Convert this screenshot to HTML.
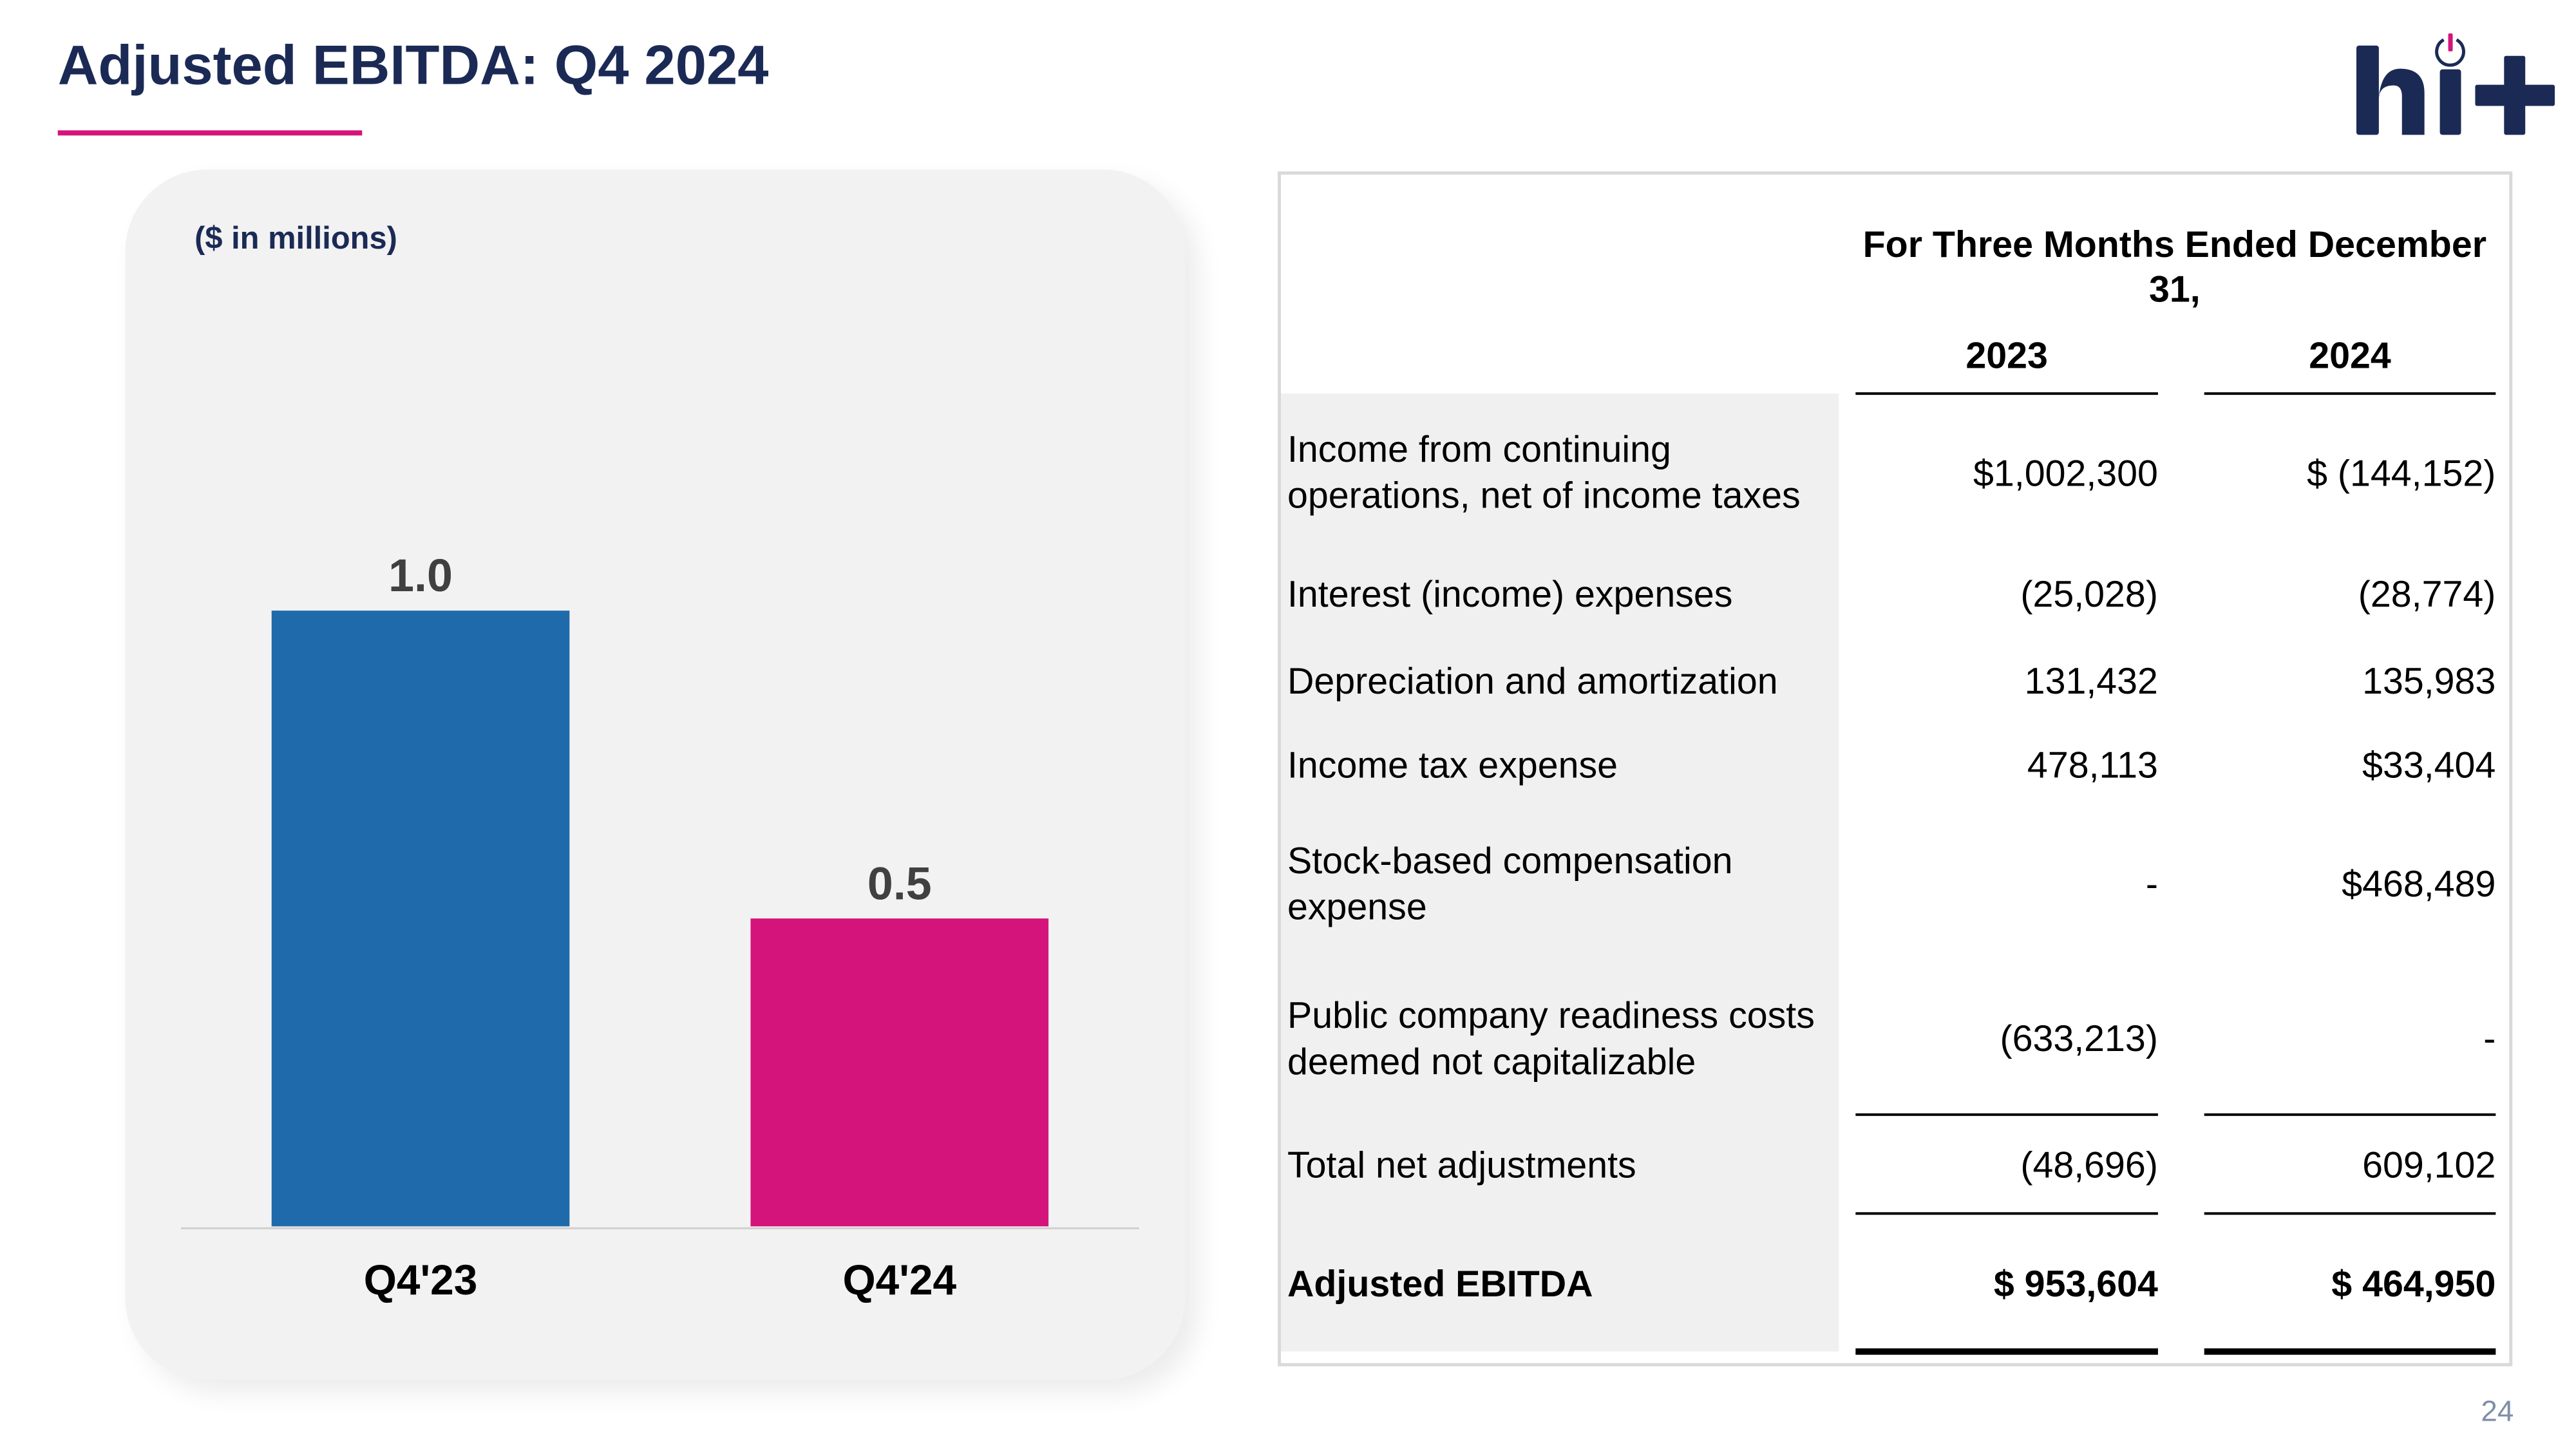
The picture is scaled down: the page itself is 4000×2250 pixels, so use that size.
<!DOCTYPE html>
<html><head><meta charset="utf-8"><style>
*{margin:0;padding:0;box-sizing:border-box}
body{width:4000px;height:2250px;background:#fff;position:relative;overflow:hidden;font-family:"Liberation Sans",Arial,sans-serif}
#wrap{position:absolute;left:0;top:0;width:4000px;height:2250px;transform:scale(0.997);transform-origin:0 0}
.a{position:absolute;white-space:nowrap}
.lbl{position:absolute;left:2005px;font-size:57.5px;color:#000;line-height:72px;transform:translateY(-50%)}
.v{position:absolute;font-size:57.5px;color:#000;transform:translateY(-50%);text-align:right;white-space:nowrap}
.c1{right:639px}.c2{right:113px}
.ln{position:absolute;height:4px;background:#000}
</style></head><body><div id="wrap">
<div class="a" style="left:90px;top:52px;font-size:87px;font-weight:bold;color:#1b2a55">Adjusted EBITDA: Q4 2024</div>
<div class="a" style="left:90px;top:203px;width:474px;height:8px;background:#d4147a"></div>
<svg class="a" style="left:3660px;top:40px" width="360" height="180" viewBox="3640 40 360 180">
<rect x="3650" y="71" width="35" height="139" rx="4" fill="#1b2a55"/>
<path d="M3685 150 Q3690 107 3718 107 Q3756 107 3756 145 L3756 210 L3721 210 L3721 150 Q3721 133 3708 133 Q3685 133 3685 155 Z" fill="#1b2a55"/>
<rect x="3780" y="108" width="33" height="102" rx="4" fill="#1b2a55"/>
<path d="M3786 62 A21 21 0 1 0 3806 62" fill="none" stroke="#1b2a55" stroke-width="5"/>
<rect x="3793" y="52" width="7" height="28" rx="2" fill="#d4147a"/>
<rect x="3880" y="87" width="33" height="123" rx="3" fill="#1b2a55"/>
<rect x="3835" y="132" width="124" height="33" rx="3" fill="#1b2a55"/>
</svg>
<div class="a" style="left:195px;top:264px;width:1651px;height:1885px;background:#f2f2f2;border-radius:128px;box-shadow:20px 20px 40px rgba(0,0,0,0.08)"></div>
<div class="a" style="left:303px;top:343px;font-size:49px;font-weight:bold;color:#1b2a55">($ in millions)</div>
<svg id="chart" class="a" style="left:0;top:0" width="2000" height="2250"></svg>
<script>
const categories=["Q4'23","Q4'24"];
const values=[1.0,0.5];
const colors=["#1f6aab","#d4147a"];
const svg=document.getElementById('chart');const NS='http://www.w3.org/2000/svg';
const baseY=1910,pxPerUnit=959,x0=423,step=746,bw=464;
const yScale=v=>baseY-v*pxPerUnit;
const xScale=i=>x0+i*step;
function mk(t,a){const e=document.createElementNS(NS,t);for(const k in a)e.setAttribute(k,a[k]);svg.appendChild(e);return e;}
const base=mk('line',{x1:282,x2:1774,y1:1913,y2:1913,stroke:'#cfcfcf','stroke-width':3});


categories.forEach((c,i)=>{
 const r=mk('rect',{x:xScale(i),y:yScale(values[i]),width:bw,height:baseY-yScale(values[i]),fill:colors[i]});
 
 
 const t=mk('text',{x:xScale(i)+bw/2,y:yScale(values[i])-30,'text-anchor':'middle','font-size':72,'font-weight':'bold',fill:'#404040','font-family':'Liberation Sans, sans-serif'});
 t.textContent=values[i].toFixed(1);
 
 
 const l=mk('text',{x:xScale(i)+bw/2,y:2016,'text-anchor':'middle','font-size':66,'font-weight':'bold',fill:'#000','font-family':'Liberation Sans, sans-serif'});
 l.textContent=c;
 
 
});
</script>
<div class="a" style="left:1990px;top:267px;width:1923px;height:1861px;border:5px solid #d9d9d9"></div>
<div class="a" style="left:1995px;top:613px;width:869px;height:1492px;background:#f0f0f0"></div>
<div class="a" style="left:2887px;top:346px;width:1000px;text-align:center;font-size:57.5px;font-weight:bold;line-height:70px;white-space:normal">For Three Months Ended December<br>31,</div>
<div class="v" style="left:2890px;width:471px;text-align:center;top:554px;font-weight:bold">2023</div>
<div class="v" style="left:3433px;width:454px;text-align:center;top:554px;font-weight:bold">2024</div>
<div class="ln" style="left:2890px;width:471px;top:611px"></div>
<div class="ln" style="left:3433px;width:454px;top:611px"></div>

<div class="lbl" style="top:736px">Income from continuing<br>operations, net of income taxes</div>
<div class="v c1" style="top:738px">$1,002,300</div>
<div class="v c2" style="top:738px">$ (144,152)</div>

<div class="lbl" style="top:926px">Interest (income) expenses</div>
<div class="v c1" style="top:926px">(25,028)</div>
<div class="v c2" style="top:926px">(28,774)</div>

<div class="lbl" style="top:1061px">Depreciation and amortization</div>
<div class="v c1" style="top:1061px">131,432</div>
<div class="v c2" style="top:1061px">135,983</div>

<div class="lbl" style="top:1192px">Income tax expense</div>
<div class="v c1" style="top:1192px">478,113</div>
<div class="v c2" style="top:1192px">$33,404</div>

<div class="lbl" style="top:1377px">Stock-based compensation<br>expense</div>
<div class="v c1" style="top:1377px">-</div>
<div class="v c2" style="top:1377px">$468,489</div>

<div class="lbl" style="top:1618px">Public company readiness costs<br>deemed not capitalizable</div>
<div class="v c1" style="top:1618px">(633,213)</div>
<div class="v c2" style="top:1618px">-</div>

<div class="ln" style="left:2890px;width:471px;top:1734px"></div>
<div class="ln" style="left:3433px;width:454px;top:1734px"></div>

<div class="lbl" style="top:1815px">Total net adjustments</div>
<div class="v c1" style="top:1815px">(48,696)</div>
<div class="v c2" style="top:1815px">609,102</div>

<div class="ln" style="left:2890px;width:471px;top:1888px"></div>
<div class="ln" style="left:3433px;width:454px;top:1888px"></div>

<div class="lbl" style="top:2000px;font-weight:bold">Adjusted EBITDA</div>
<div class="v c1" style="top:2000px;font-weight:bold">$ 953,604</div>
<div class="v c2" style="top:2000px;font-weight:bold">$ 464,950</div>

<div class="ln" style="left:2890px;width:471px;top:2100px;height:10px"></div>
<div class="ln" style="left:3433px;width:454px;top:2100px;height:10px"></div>

<div class="a" style="left:3864px;top:2170px;font-size:46px;color:#7f8fa9">24</div>
</div></body></html>
